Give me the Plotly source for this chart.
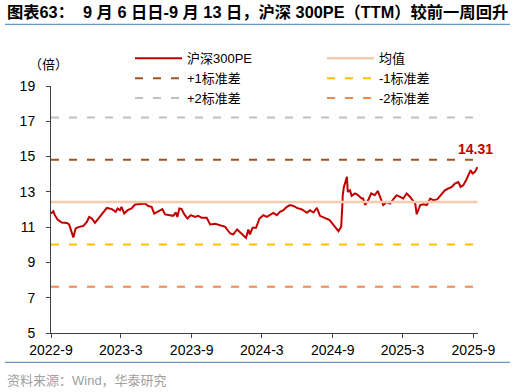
import plotly.graph_objects as go

# ---------------- data ----------------
dates = [
    "2022-09-01", "2022-09-07", "2022-09-11", "2022-09-18", "2022-09-29", "2022-10-12",
    "2022-10-18", "2022-10-25", "2022-10-29", "2022-11-04", "2022-11-11", "2022-11-24",
    "2022-12-03", "2022-12-09", "2022-12-16", "2022-12-24", "2023-01-02", "2023-01-15",
    "2023-01-24", "2023-02-06", "2023-02-16", "2023-02-21", "2023-02-27", "2023-03-03",
    "2023-03-10", "2023-03-19", "2023-03-29", "2023-04-07", "2023-04-16", "2023-04-24",
    "2023-05-03", "2023-05-11", "2023-05-20", "2023-05-27", "2023-06-06", "2023-06-17",
    "2023-06-24", "2023-07-07", "2023-07-15", "2023-07-22", "2023-07-26", "2023-07-31",
    "2023-08-06", "2023-08-13", "2023-08-21", "2023-08-30", "2023-09-10", "2023-09-18",
    "2023-09-27", "2023-10-10", "2023-10-19", "2023-11-01", "2023-11-14", "2023-11-27",
    "2023-12-10", "2023-12-18", "2023-12-28", "2024-01-09", "2024-01-20", "2024-01-26",
    "2024-01-30", "2024-02-06", "2024-02-15", "2024-02-24", "2024-03-05", "2024-03-14",
    "2024-03-22", "2024-03-31", "2024-04-09", "2024-04-17", "2024-04-26", "2024-05-05",
    "2024-05-13", "2024-05-22", "2024-05-31", "2024-06-13", "2024-06-26", "2024-07-04",
    "2024-07-13", "2024-07-22", "2024-07-30", "2024-08-11", "2024-08-24", "2024-09-07",
    "2024-09-16", "2024-09-23", "2024-09-24", "2024-09-26", "2024-09-27", "2024-09-30",
    "2024-10-08", "2024-10-10", "2024-10-16", "2024-10-20", "2024-10-29", "2024-11-04",
    "2024-11-15", "2024-11-19", "2024-11-24", "2024-12-02", "2024-12-10", "2024-12-19",
    "2024-12-27", "2025-01-04", "2025-01-10", "2025-01-19", "2025-01-28", "2025-02-05",
    "2025-02-14", "2025-02-23", "2025-03-03", "2025-03-12", "2025-03-21", "2025-03-29",
    "2025-04-03", "2025-04-07", "2025-04-16", "2025-04-24", "2025-05-03", "2025-05-12",
    "2025-05-20", "2025-05-30", "2025-06-11", "2025-06-19", "2025-06-28", "2025-07-07",
    "2025-07-15", "2025-07-24", "2025-07-30", "2025-08-06", "2025-08-13", "2025-08-19",
    "2025-08-25", "2025-08-30", "2025-09-05", "2025-09-11", "2025-09-12",
]
pe_values = [
    11.77, 11.90, 11.68, 11.43, 11.26, 11.24,
    11.15, 10.73, 10.42, 10.93, 11.00, 11.07,
    11.30, 11.58, 11.49, 11.24, 11.49, 11.87,
    12.09, 12.02, 11.87, 12.06, 11.96, 12.15,
    11.77, 11.96, 12.06, 12.28, 12.30, 12.28,
    12.34, 12.20, 12.15, 11.77, 11.90, 12.02,
    11.72, 11.68, 11.64, 11.83, 11.58, 12.06,
    12.02, 11.72, 11.49, 11.68, 11.58, 11.64,
    11.53, 11.53, 11.15, 11.19, 11.11, 11.02,
    10.64, 10.59, 10.87, 10.59, 10.39, 10.87,
    10.59, 10.96, 10.96, 11.49, 11.68, 11.58,
    11.68, 11.81, 11.68, 11.87, 11.96, 12.15,
    12.25, 12.20, 12.09, 12.00, 11.81, 11.96,
    11.83, 12.09, 11.64, 11.53, 11.40, 11.02,
    10.77, 11.02, 11.30, 12.25, 12.80, 13.28,
    13.85, 13.00, 13.09, 12.77, 12.91, 12.85,
    12.62, 12.62, 12.25, 12.53, 12.91, 12.81,
    13.05, 12.53, 12.25, 12.43, 12.34, 12.57,
    12.81, 12.71, 12.62, 12.91, 12.71, 12.47,
    12.34, 11.73, 12.25, 12.30, 12.25, 12.62,
    12.53, 12.57, 12.91, 13.09, 13.19, 13.28,
    13.47, 13.56, 13.28, 13.38, 13.66, 13.94,
    14.23, 14.04, 14.13, 14.38, 14.31,
]
mean_value = 12.42
std_value = 2.40
last_label = "14.31"
y_ticks = [5, 7, 9, 11, 13, 15, 17, 19]

names = ["沪深300PE", "均值", "+1标准差", "-1标准差", "+2标准差", "-2标准差"]

FONT = "Liberation Sans, Arial, Noto Sans CJK SC, sans-serif"

# plot-area geometry (px)
L, R, T, B = 51, 38, 85.7, 59.3
PW, PH = 516 - L - R, 392 - T - B


def px_x(x):
    return (x - L) / PW


def px_y(y):
    return 1 - (y - T) / PH


fig = go.Figure()
span = [dates[0], dates[-1]]

fig.add_trace(go.Scatter(x=dates, y=pe_values, mode="lines", name=names[0], legend="legend",
                         line=dict(color="#C00000", width=2)))
fig.add_trace(go.Scatter(x=span, y=[mean_value] * 2, mode="lines", name=names[1], legend="legend2",
                         line=dict(color="#F8CBAD", width=2.5)))
fig.add_trace(go.Scatter(x=span, y=[mean_value + std_value] * 2, mode="lines", name=names[2],
                         legend="legend", line=dict(color="#9C5526", width=2, dash="8px,10px")))
fig.add_trace(go.Scatter(x=span, y=[mean_value - std_value] * 2, mode="lines", name=names[3],
                         legend="legend2", line=dict(color="#FFC000", width=2, dash="8px,10px")))
fig.add_trace(go.Scatter(x=span, y=[mean_value + 2 * std_value] * 2, mode="lines", name=names[4],
                         legend="legend", line=dict(color="#BFBFBF", width=2, dash="8px,10px")))
fig.add_trace(go.Scatter(x=span, y=[mean_value - 2 * std_value] * 2, mode="lines", name=names[5],
                         legend="legend2", line=dict(color="#F4884A", width=2, dash="8px,10px")))

fig.add_annotation(x=dates[-1], y=pe_values[-1], text="<b>" + last_label + "</b>",
                   showarrow=False, yshift=20, xshift=-2,
                   font=dict(color="#C00000", size=14, family=FONT))

# title, axis unit, source
fig.add_annotation(xref="paper", yref="paper", x=px_x(5), y=px_y(12),
                   xanchor="left", yanchor="middle", showarrow=False,
                   text="<b>图表63：  9 月 6 日日-9 月 13 日，沪深 300PE（TTM）较前一周回升</b>",
                   font=dict(size=16.3, color="#000000", family=FONT))
fig.add_annotation(xref="paper", yref="paper", x=px_x(48), y=px_y(64),
                   xanchor="center", yanchor="middle", showarrow=False,
                   text="（倍）", font=dict(size=13, color="#000000", family=FONT))
fig.add_annotation(xref="paper", yref="paper", x=px_x(5), y=px_y(380),
                   xanchor="left", yanchor="middle", showarrow=False,
                   text="资料来源：Wind，华泰研究", font=dict(size=13, color="#A0A0A0", family=FONT))
for yy in (24, 362):
    fig.add_shape(type="line", xref="paper", yref="paper", x0=px_x(5), x1=px_x(510),
                  y0=px_y(yy), y1=px_y(yy), line=dict(color="#6A96C8", width=1.2))

legend_common = dict(orientation="v", yanchor="top", xanchor="left", itemwidth=47,
                     font=dict(size=13, family=FONT, color="#000000"),
                     bgcolor="rgba(0,0,0,0)", borderwidth=0, tracegroupgap=0)

fig.update_layout(
    width=516, height=392,
    margin=dict(l=L, r=R, t=T, b=B, autoexpand=False),
    paper_bgcolor="white", plot_bgcolor="white",
    font=dict(family=FONT, size=14, color="#000000"),
    showlegend=True,
    legend=dict(x=px_x(130), y=px_y(43), **legend_common),
    legend2=dict(x=px_x(322), y=px_y(43), **legend_common),
    xaxis=dict(type="date", range=["2022-09-01", "2025-09-13"],
               tick0="2022-09-01", dtick="M6", tickformat="%Y-%-m",
               showgrid=False, showline=True, linecolor="#404040", linewidth=1,
               ticks="outside", ticklen=4, tickcolor="#404040",
               tickfont=dict(size=14), zeroline=False),
    yaxis=dict(range=[5, 19], tickvals=y_ticks, showgrid=False, showline=True,
               linecolor="#404040", linewidth=1, ticks="outside", ticklen=4,
               tickcolor="#404040", ticklabelstandoff=8, tickfont=dict(size=14),
               zeroline=False),
)

fig.write_html("out.html", config={"displayModeBar": False},
               post_script="document.body.style.margin='0';")
